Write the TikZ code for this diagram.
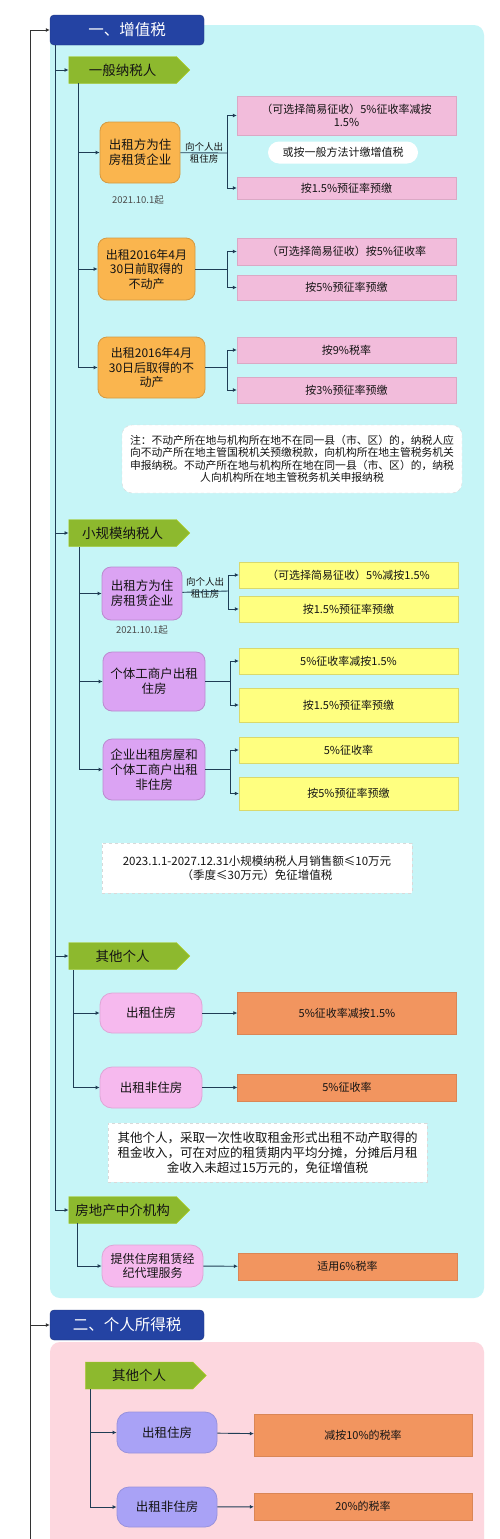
\documentclass[tikz,border=0pt]{standalone}
\usepackage{fontspec}
\setmainfont{Noto Sans CJK SC}
\usepackage{tikz}
\usetikzlibrary{arrows.meta,shapes.symbols}

\definecolor{cyanbg}{HTML}{C6F5F7}
\definecolor{pinkbg}{HTML}{FDD7DF}
\definecolor{hdrblue}{HTML}{2443A3}
\definecolor{taggreen}{HTML}{8DB92E}
\definecolor{orangebox}{HTML}{FAB54E}
\definecolor{pinkres}{HTML}{F2BCDB}
\definecolor{violetbox}{HTML}{DBA3F3}
\definecolor{yellowres}{HTML}{FFFF80}
\definecolor{rosebox}{HTML}{F6B9EE}
\definecolor{salmon}{HTML}{F2955F}
\definecolor{lavender}{HTML}{A9A2F6}
\definecolor{linec}{HTML}{1F3D55}

\newcommand{\fsz}[2]{\fontsize{#1}{#2}\selectfont}

\begin{document}
\begin{tikzpicture}[x=1pt,y=-1pt,
  every node/.style={align=center,text=black!92,inner sep=1pt},
  hdr/.style={fill=hdrblue,draw=hdrblue!80!black,rounded corners=4pt,text=white,minimum width=154pt,minimum height=30pt,font=\fsz{15.5}{18}},
  tag/.style={signal,signal to=east,fill=taggreen,draw=taggreen!70!yellow,minimum width=121pt,minimum height=27pt,font=\fsz{13.5}{16}},
  kind/.style={rounded corners=9pt,font=\fsz{12.5}{15},line width=0.8pt},
  orng/.style={kind,fill=orangebox,draw=orangebox!85!black},
  viol/.style={kind,fill=violetbox,draw=violetbox!85!black},
  rose/.style={kind,fill=rosebox,draw=rosebox!90!black,rounded corners=12pt},
  lav/.style={kind,fill=lavender,draw=lavender!90!black,rounded corners=12pt},
  res/.style={minimum width=219pt,font=\fsz{11}{13.5}},
  pres/.style={res,fill=pinkres,draw=pinkres!90!black},
  yres/.style={res,fill=yellowres,draw=yellowres!85!black},
  sres/.style={res,fill=salmon,draw=salmon!90!black},
  note/.style={fill=white,draw=gray!30,dashed,font=\fsz{10.8}{12.5}},
  small/.style={font=\fsz{9.5}{12}},
  arr/.style={-{Latex[length=4pt,width=4pt]},linec,line width=0.9pt},
  rail/.style={-{Latex[length=4pt,width=4pt]},black!80,line width=1pt}
]
\clip (0,0) rectangle (500,1539);
\fill[white] (0,0) rectangle (500,1539);

% panels
\fill[cyanbg,rounded corners=10pt] (50,25) rectangle (484,1298);
\fill[pinkbg,rounded corners=10pt] (50,1342) rectangle (484,1560);

% headings
\node[hdr] (hdr1) at (127,30) {一、增值税};
\node[hdr] (hdr2) at (127,1325) {二、个人所得税};
\coordinate (top) at (30,1539);
\draw[rail] (top) |- (hdr1);
\draw[rail] (top |- hdr2) -- (hdr2);

% taxpayer tags
\node[tag] (gen) at (122.5,70) {一般纳税人};
\node[tag] (sml) at (122.5,533) {小规模纳税人};
\node[tag] (oth) at (122.5,956) {其他个人};
\node[tag] (agt) at (122.5,1210) {房地产中介机构};
\node[tag] (pit) at (139,1375.5) {其他个人};
\coordinate (vat) at (55,45);
\foreach \t in {gen,sml,oth,agt}
  \draw[arr] (vat) |- (\t);

% general taxpayer
\node[orng,minimum width=80pt,minimum height=61pt] (gen1) at (140,152.5) {出租方为住\\房租赁企业};
\node[orng,minimum width=97pt,minimum height=62pt,font=\fsz{12}{14.5}] (gen2) at (146.5,269) {出租2016年4月\\30日前取得的\\不动产};
\node[orng,minimum width=107pt,minimum height=61pt,font=\fsz{12}{14.5}] (gen3) at (151.5,367.5) {出租2016年4月\\30日后取得的不\\动产};
\node[small,text=black!70] (gdate) at (138,200) {2021.10.1起};
\node[small] (glab) at (204,153) {向个人出\\租住房};

\node[pres,minimum height=39pt] (gr1) at (346.5,115.5) {（可选择简易征收）5\%征收率减按\\1.5\%};
\node[fill=white,rounded corners=11pt,minimum width=150pt,minimum height=22pt,font=\fsz{11}{13}] (gor) at (343,152.5) {或按一般方法计缴增值税};
\node[pres,minimum height=22pt] (gr2) at (346.5,188) {按1.5\%预征率预缴};
\node[pres,minimum height=27pt] (gr3) at (346.5,251.5) {（可选择简易征收）按5\%征收率};
\node[pres,minimum height=25pt] (gr4) at (346.5,287.5) {按5\%预征率预缴};
\node[pres,minimum height=26pt] (gr5) at (346.5,350) {按9\%税率};
\node[pres,minimum height=26pt] (gr6) at (346.5,390) {按3\%预征率预缴};

\coordinate (gl) at (78,83);
\foreach \b in {gen1,gen2,gen3}
  \draw[arr] (gl) |- (\b);
\coordinate (gj1) at (227,153);
\coordinate (gj2) at (227,269);
\coordinate (gj3) at (227,367.5);
\draw[arr,-] (gen1) -- (gj1);
\draw[arr,-] (gen2) -- (gj2);
\draw[arr,-] (gen3) -- (gj3);
\draw[arr] (gj1) |- (gr1);
\draw[arr] (gj1) |- (gr2);
\draw[arr] (gj2) |- (gr3);
\draw[arr] (gj2) |- (gr4);
\draw[arr] (gj3) |- (gr5);
\draw[arr] (gj3) |- (gr6);

\node[note,rounded corners=10pt,minimum width=340pt,minimum height=68pt] (gnote) at (292,459) {注：不动产所在地与机构所在地不在同一县（市、区）的，纳税人应\\向不动产所在地主管国税机关预缴税款，向机构所在地主管税务机关\\申报纳税。不动产所在地与机构所在地在同一县（市、区）的，纳税\\人向机构所在地主管税务机关申报纳税};

% small-scale taxpayer
\node[viol,minimum width=80pt,minimum height=53pt] (sml1) at (142,593.5) {出租方为住\\房租赁企业};
\node[viol,minimum width=102pt,minimum height=59pt] (sml2) at (154,681.5) {个体工商户出租\\住房};
\node[viol,minimum width=102pt,minimum height=61pt] (sml3) at (154,769.5) {企业出租房屋和\\个体工商户出租\\非住房};
\node[small,text=black!70] (sdate) at (142,630) {2021.10.1起};
\node[small] (slab) at (205,588) {向个人出\\租住房};

\node[yres,minimum height=26pt] (sr1) at (348.5,575) {（可选择简易征收）5\%减按1.5\%};
\node[yres,minimum height=26pt] (sr2) at (348.5,609) {按1.5\%预征率预缴};
\node[yres,minimum height=26pt] (sr3) at (348.5,661) {5\%征收率减按1.5\%};
\node[yres,minimum height=34pt] (sr4) at (348.5,705) {按1.5\%预征率预缴};
\node[yres,minimum height=26pt] (sr5) at (348.5,750) {5\%征收率};
\node[yres,minimum height=33pt] (sr6) at (348.5,793.5) {按5\%预征率预缴};

\coordinate (sl) at (79,547);
\foreach \b in {sml1,sml2,sml3}
  \draw[arr] (sl) |- (\b);
\coordinate (sj1) at (228,591);
\coordinate (sj2) at (230,681.5);
\coordinate (sj3) at (230,769.5);
\draw[arr,-] (sml1) -- (sj1);
\draw[arr,-] (sml2) -- (sj2);
\draw[arr,-] (sml3) -- (sj3);
\draw[arr] (sj1) |- (sr1);
\draw[arr] (sj1) |- (sr2);
\draw[arr] (sj2) |- (sr3);
\draw[arr] (sj2) |- (sr4);
\draw[arr] (sj3) |- (sr5);
\draw[arr] (sj3) |- (sr6);

\node[note,minimum width=310pt,minimum height=50pt,font=\fsz{11.5}{14}] (snote) at (257,868) {2023.1.1-2027.12.31小规模纳税人月销售额≤10万元\\（季度≤30万元）免征增值税};

% other individuals
\node[rose,minimum width=102pt,minimum height=40pt] (oth1) at (151,1013) {出租住房};
\node[rose,minimum width=102pt,minimum height=41pt] (oth2) at (151,1087.5) {出租非住房};
\node[sres,minimum height=42pt] (or1) at (347,1013) {5\%征收率减按1.5\%};
\node[sres,minimum height=27pt] (or2) at (347,1087.5) {5\%征收率};
\coordinate (ol) at (73,970);
\draw[arr] (ol) |- (oth1);
\draw[arr] (ol) |- (oth2);
\draw[arr] (oth1) -- (or1);
\draw[arr] (oth2) -- (or2);
\node[note,minimum width=319pt,minimum height=59pt,font=\fsz{12.5}{15}] (onote) at (267.5,1152.5) {其他个人，采取一次性收取租金形式出租不动产取得的\\租金收入，可在对应的租赁期内平均分摊，分摊后月租\\金收入未超过15万元的，免征增值税};

% agency
\node[rose,minimum width=101pt,minimum height=42pt,font=\fsz{12}{14.5}] (agt1) at (152.5,1266) {提供住房租赁经\\纪代理服务};
\node[sres,minimum height=27pt] (ar1) at (347.5,1266.5) {适用6\%税率};
\coordinate (al) at (77,1223);
\draw[arr] (al) |- (agt1);
\draw[arr] (agt1) -- (ar1);

% individual income tax
\node[lav,minimum width=100pt,minimum height=41pt] (pit1) at (167,1432.5) {出租住房};
\node[lav,minimum width=100pt,minimum height=40pt] (pit2) at (167,1507) {出租非住房};
\node[sres,minimum width=218pt,minimum height=42pt] (pr1) at (363,1435) {减按10\%的税率};
\node[sres,minimum width=218pt,minimum height=27pt] (pr2) at (363,1506.5) {20\%的税率};
\coordinate (pl) at (90,1389);
\draw[arr] (pl) |- (pit1);
\draw[arr] (pl) |- (pit2);
\draw[arr] (pit1) -- (pr1);
\draw[arr] (pit2) -- (pr2);
\end{tikzpicture}
\end{document}
